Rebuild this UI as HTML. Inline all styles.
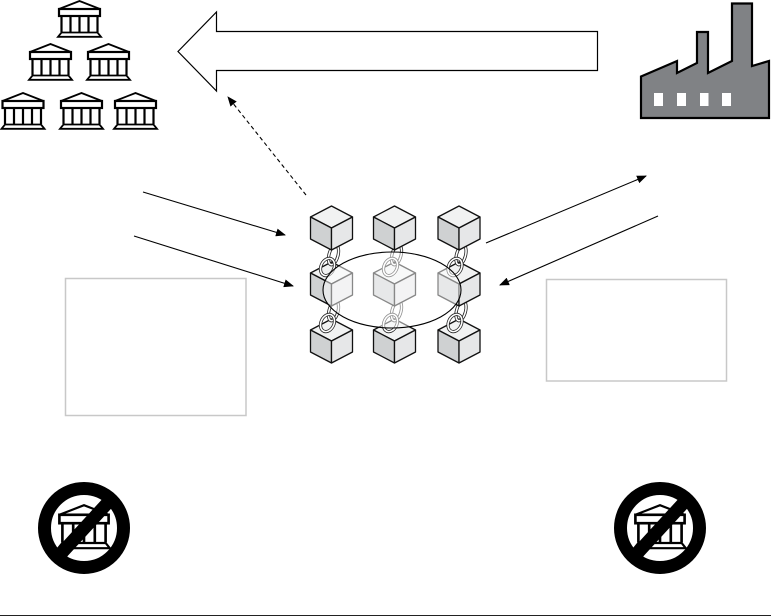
<!DOCTYPE html>
<html><head><meta charset="utf-8"><style>html,body{margin:0;padding:0;background:#fff}svg{display:block}</style></head>
<body>
<svg width="771" height="616" viewBox="0 0 771 616" xmlns="http://www.w3.org/2000/svg">
<defs>
<g id="bank" fill="#fff" stroke="#000">
  <path d="M-20.5,9 L0,1 L20.5,9 Z" stroke-width="1.8"/>
  <rect x="-20.5" y="9" width="41" height="7" stroke-width="2.2"/>
  <path d="M-18,16 V32 M-9,16 V32 M0,16 V32 M9,16 V32 M18,16 V32" stroke-width="2.2"/>
  <path d="M-18,32.5 H18 L21.5,36.8 H-21.5 Z" stroke-width="1.8"/>
</g>
<g id="cube" stroke="#111" stroke-width="1.3" stroke-linejoin="round">
  <path d="M0,0 L21,11 L0,22 L-21,11 Z" fill="#f1f2f2"/>
  <path d="M-21,11 L0,22 V44 L-21,33 Z" fill="#cfd1d2"/>
  <path d="M21,11 L0,22 V44 L21,33 Z" fill="#e6e7e8"/>
</g>
<g id="link" fill="none">
  <ellipse cx="2" cy="-7" rx="4.5" ry="10" transform="rotate(15 2 -7)" stroke="#222" stroke-width="3.2"/>
  <ellipse cx="2" cy="-7" rx="4.5" ry="10" transform="rotate(15 2 -7)" stroke="#fff" stroke-width="1.6"/>
  <ellipse cx="-4" cy="5" rx="6.5" ry="9" transform="rotate(25 -4 5)" stroke="#222" stroke-width="3.2"/>
  <ellipse cx="-4" cy="5" rx="6.5" ry="9" transform="rotate(25 -4 5)" stroke="#fff" stroke-width="1.6"/>
</g>
<marker id="ah" markerWidth="10" markerHeight="8" refX="9" refY="4" orient="auto" markerUnits="userSpaceOnUse">
  <path d="M0,0 L10,4 L0,8 Z" fill="#000"/>
</marker>
</defs>

<use href="#bank" x="79.5" y="0"/>
<use href="#bank" x="50.5" y="43"/>
<use href="#bank" x="108.5" y="43"/>
<use href="#bank" x="23" y="92"/>
<use href="#bank" x="81.5" y="92"/>
<use href="#bank" x="135.5" y="92"/>

<path d="M597.5,31.5 H216.5 V12 L178,51.5 L216.5,91 V70.5 H597.5 Z" fill="#fff" stroke="#000" stroke-width="1.2"/>

<path d="M641,76.5 L677,61 V73 L697,63 V32 H708 V73 L732,61 V3.5 H752 V66 L769,61 V118 H641 Z" fill="#808285" stroke="#000" stroke-width="2.2"/>
<rect x="654" y="93" width="9" height="13" fill="#fff"/>
<rect x="677" y="93" width="9" height="13" fill="#fff"/>
<rect x="700" y="93" width="8.5" height="13" fill="#fff"/>
<rect x="722" y="93" width="9" height="13" fill="#fff"/>

<line x1="306" y1="195" x2="228" y2="97" stroke="#000" stroke-width="1.1" stroke-dasharray="4 3" marker-end="url(#ah)"/>
<line x1="143" y1="192" x2="285" y2="235" stroke="#000" stroke-width="1.1" marker-end="url(#ah)"/>
<line x1="134" y1="236" x2="293" y2="286" stroke="#000" stroke-width="1.1" marker-end="url(#ah)"/>
<line x1="486" y1="243" x2="646" y2="176" stroke="#000" stroke-width="1.1" marker-end="url(#ah)"/>
<line x1="658" y1="216" x2="500" y2="285" stroke="#000" stroke-width="1.1" marker-end="url(#ah)"/>

<rect x="65.5" y="278.5" width="180.5" height="137" fill="#fff" stroke="#c8c8c8" stroke-width="1.5"/>
<rect x="546.5" y="279.5" width="180" height="101.5" fill="#fff" stroke="#c8c8c8" stroke-width="1.5"/>

<use href="#cube" x="331.5" y="319"/>
<use href="#cube" x="394.5" y="319"/>
<use href="#cube" x="459" y="319"/>
<use href="#link" x="331.5" y="318"/>
<use href="#link" x="394.5" y="318"/>
<use href="#link" x="459" y="318"/>

<use href="#cube" x="331.5" y="262"/>
<use href="#cube" x="394.5" y="262"/>
<use href="#cube" x="459" y="262"/>
<use href="#link" x="331.5" y="262"/>
<use href="#link" x="394.5" y="262"/>
<use href="#link" x="459" y="262"/>

<use href="#cube" x="331.5" y="206"/>
<use href="#cube" x="394.5" y="206"/>
<use href="#cube" x="459" y="206"/>

<ellipse cx="392" cy="290" rx="69" ry="38" fill="#fff" fill-opacity="0.5" stroke="#000" stroke-width="1.1"/>

<g>
  <g transform="translate(84 504) scale(1.2)"><use href="#bank"/></g>
  <circle cx="84" cy="528" r="39.5" fill="none" stroke="#000" stroke-width="13"/>
  <line x1="113" y1="497" x2="57" y2="558" stroke="#000" stroke-width="13"/>
</g>
<g>
  <g transform="translate(660 504) scale(1.2)"><use href="#bank"/></g>
  <circle cx="660" cy="528" r="39.5" fill="none" stroke="#000" stroke-width="13"/>
  <line x1="689" y1="497" x2="633" y2="558" stroke="#000" stroke-width="13"/>
</g>

<line x1="0" y1="615.5" x2="771" y2="615.5" stroke="#222" stroke-width="1"/>
</svg>
</body></html>
